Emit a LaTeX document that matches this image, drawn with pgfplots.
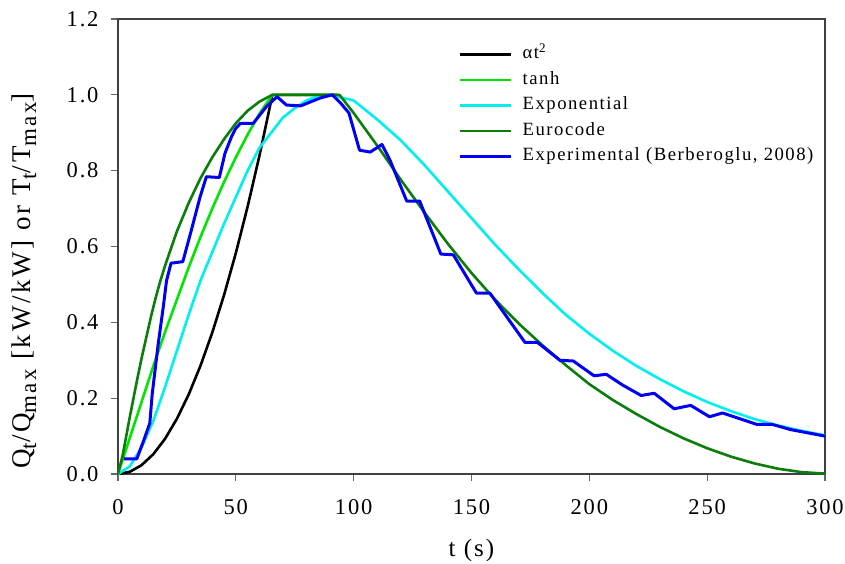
\documentclass[border=0pt]{standalone}
\usepackage{fontspec}
\setmainfont{Liberation Serif}[LetterSpace=8]
\usepackage{pgfplots}
\pgfplotsset{compat=1.18}

\definecolor{cblack}{RGB}{0,0,0}
\definecolor{ctanh}{RGB}{0,230,0}
\definecolor{cexpo}{RGB}{0,240,240}
\definecolor{ceuro}{RGB}{10,125,10}
\definecolor{cexpe}{RGB}{0,0,245}

\newcommand{\sbs}[1]{\raisebox{-0.45ex}{\scalebox{0.85}{#1}}}

\begin{document}
\begin{tikzpicture}
\useasboundingbox (-118pt,-89pt) rectangle (727pt,474pt);
\begin{axis}[
    width=707pt, height=455pt, scale only axis,
    xmin=0, xmax=300, ymin=0, ymax=1.2,
    xtick={0,50,100,150,200,250,300},
    ytick={0,0.2,0.4,0.6,0.8,1.0,1.2},
    tick align=outside, xtick pos=bottom, ytick pos=left,
    major tick length=7pt,
    axis line style={black!75, line width=1.2pt},
    tick style={black!60, line width=1.2pt},
    /pgf/number format/assume math mode=true,
    tick label style={font=\fontsize{22.5}{22.5}\selectfont},
    xticklabel style={yshift=-15pt},
    yticklabel style={xshift=-9pt, /pgf/number format/.cd, fixed, fixed zerofill, precision=1},
    xlabel={t (s)},
    ylabel={Q\sbs{t}/Q\sbs{max} [kW/kW] or T\sbs{t}/T\sbs{max}]},
    xlabel style={font=\fontsize{25}{25}\selectfont, at={(axis description cs:0.5,-0.168)}, anchor=center},
    ylabel style={font=\fontsize{27}{27}\selectfont\addfontfeatures{LetterSpace=10},
        at={(axis description cs:-0.133,0.424)}, anchor=center},
    legend cell align=left,
    legend image code/.code={\draw[#1, line width=2.5pt] (0pt,0pt) -- (51pt,0pt);},
    legend style={draw=none, fill=none, at={(axis cs:144.7,1.132)}, anchor=north west,
        font=\fontsize{18.7}{18.7}\selectfont, inner sep=0pt,
        nodes={inner sep=0pt, text height=14pt, text depth=5pt},
        row sep=6.5pt, /tikz/every odd column/.append style={column sep=10pt}},
    every axis plot/.append style={line width=2.6pt, line join=round},
]
% alpha t^2
\addplot[draw=cblack] coordinates {
  (0,0) (5,0.0058) (10,0.0233) (15,0.0524) (20,0.0932) (25,0.1457)
  (30,0.2098) (35,0.2855) (40,0.3729) (45,0.472) (50,0.5827)
  (55,0.7051) (60,0.8391) (65,0.9848) (65.5,1) (93,1)
};
\addlegendentry{αt\textsuperscript{2}}

% tanh
\addplot[draw=ctanh] coordinates {
  (0,0) (5,0.095) (10,0.19) (15,0.285) (20,0.375) (25,0.46) (30,0.545)
  (35,0.625) (40,0.70) (45,0.77) (50,0.835) (55,0.895) (60,0.95)
  (65.5,1) (93,1)
};
\addlegendentry{tanh}

% exponential
\addplot[draw=cexpo] coordinates {
  (0,0) (5,0.02) (10,0.07) (15,0.14) (20,0.23) (25,0.325) (30,0.42)
  (35,0.51) (40,0.585) (45,0.66) (50,0.73) (55,0.8) (60,0.86) (65,0.9)
  (70,0.94) (75,0.965) (80,0.985) (85,0.997) (90,1.0)
  (100,0.985) (110,0.935) (120,0.88) (130,0.815) (140,0.745) (150,0.675)
  (160,0.605) (170,0.54) (180,0.478) (190,0.42) (200,0.37) (210,0.325)
  (220,0.285) (230,0.25) (240,0.218) (250,0.19) (260,0.166) (270,0.145)
  (280,0.128) (290,0.114) (300,0.102)
};
\addlegendentry{Exponential}

% Eurocode
\addplot[draw=ceuro] coordinates {
  (0,0) (2,0.05) (5,0.15) (8,0.245) (10,0.305) (12,0.36) (14,0.415)
  (16,0.465) (18,0.51) (20,0.55) (25,0.64) (30,0.715) (35,0.78)
  (40,0.835) (45,0.883) (50,0.925) (55,0.958) (60,0.982) (65.5,1) (94,1)
  (100,0.952) (110,0.866) (120,0.776) (130,0.69) (140,0.607) (150,0.53)
  (160,0.46) (170,0.397) (180,0.34) (190,0.287) (200,0.237) (210,0.195)
  (220,0.158) (230,0.124) (240,0.094) (250,0.068) (260,0.046)
  (270,0.028) (280,0.014) (290,0.005) (300,0.001)
};
\addlegendentry{Eurocode}

% experimental
\addplot[draw=cexpe, line width=3pt] coordinates {
  (2.5,0.04) (8,0.04) (11,0.09) (13.5,0.134) (14.5,0.21) (17,0.34)
  (19.2,0.44) (20.6,0.51) (22.5,0.556) (27.5,0.56) (31,0.64) (34.8,0.73)
  (37.5,0.784) (43,0.782) (45.4,0.846) (48.2,0.89) (50,0.912) (52,0.925)
  (57.4,0.925) (63,0.969) (67.5,0.995) (71.5,0.973) (77.5,0.971)
  (86,0.992) (91,1.0) (94.5,0.978) (98,0.952) (102.5,0.854) (107,0.849)
  (112,0.869) (115.4,0.828) (122.5,0.72) (128,0.72) (137,0.58)
  (142.3,0.578) (152.1,0.477) (157.8,0.477) (172.7,0.347) (178,0.347)
  (187.5,0.30) (193.2,0.298) (202,0.259) (207.2,0.263) (214,0.235)
  (222,0.207) (227.5,0.213) (236,0.172) (243,0.181) (251,0.151)
  (256.5,0.161) (271,0.131) (277.5,0.131) (285.5,0.117) (300,0.1)
};
\addlegendentry{Experimental (Berberoglu, 2008)}

\end{axis}
\end{tikzpicture}
\end{document}
